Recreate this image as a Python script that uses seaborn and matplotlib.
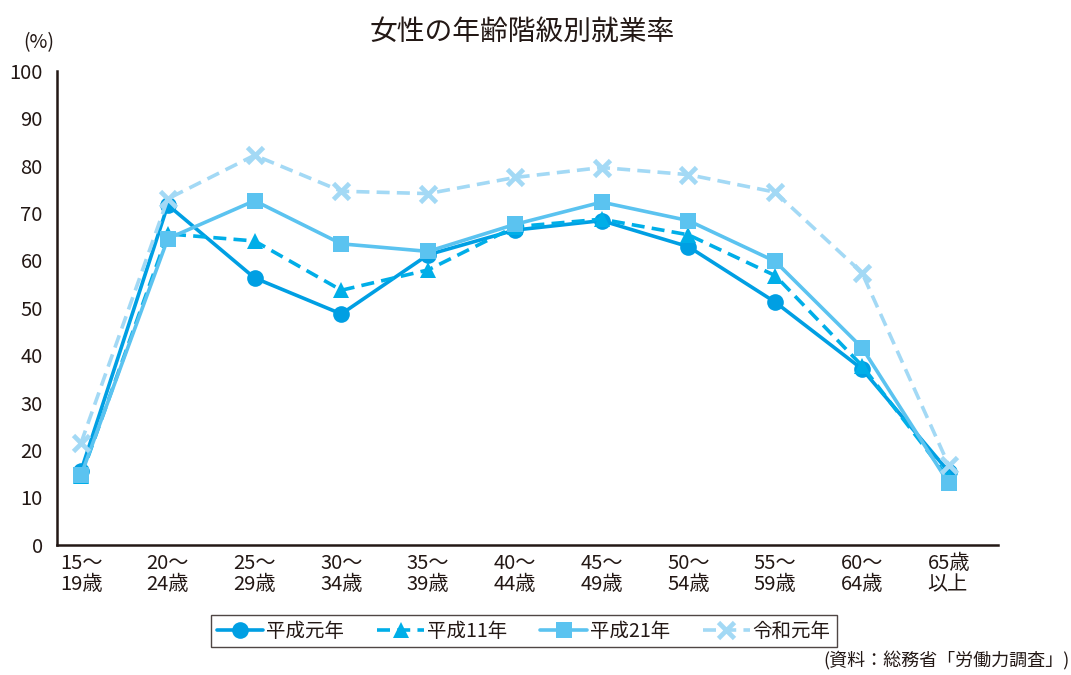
import matplotlib
matplotlib.use("Agg")
import matplotlib.pyplot as plt
import seaborn as sns
import pandas as pd

# age groups (x axis)
ages = ["15～\n19歳", "20～\n24歳", "25～\n29歳", "30～\n34歳", "35～\n39歳",
        "40～\n44歳", "45～\n49歳", "50～\n54歳", "55～\n59歳", "60～\n64歳", "65歳\n以上"]

# employment rate (%) per survey year
h01 = [15.6, 71.7, 56.3, 48.7, 61.2, 66.4, 68.4, 62.9, 51.2, 37.1, 15.4]
h11 = [14.4, 65.6, 64.1, 53.7, 58.0, 67.1, 68.7, 65.4, 56.8, 37.8, 14.0]
h21 = [14.7, 64.6, 72.6, 63.5, 61.9, 67.6, 72.3, 68.4, 59.8, 41.6, 13.0]
r01 = [21.5, 73.0, 82.2, 74.6, 74.1, 77.5, 79.6, 78.1, 74.4, 57.4, 16.8]

series = ["平成元年", "平成11年", "平成21年", "令和元年"]
colors = ["#009fe3", "#00aee8", "#5bc3f0", "#a3d9f5"]
markers = ["o", "^", "s", "x"]
dashed = [False, True, False, True]

sns.set_style("white")
plt.rcParams["font.family"] = ["Noto Sans CJK JP", "DejaVu Sans"]
txt = "#231815"

fig = plt.figure(figsize=(10.71, 6.75), dpi=100)
ax = fig.add_axes([0.053, 0.193, 0.879, 0.702])

xs = list(range(len(ages)))
for name, vals, c, m, d in zip(series, [h01, h11, h21, r01], colors, markers, dashed):
    df = pd.DataFrame({"x": xs, "y": vals})
    if m == "x":
        mk = dict(markersize=11, markeredgewidth=3.4, markeredgecolor=c)
    else:
        mk = dict(markersize=12, markeredgewidth=0, markerfacecolor=c)
    sns.lineplot(data=df, x="x", y="y", ax=ax, color=c, linewidth=2.6,
                 linestyle=(0, (3.6, 2)) if d else "-", marker=m, label=name, **mk)

ax.set_xlim(-0.28, 10.57)
ax.set_ylim(0, 100)
ax.set_yticks(range(0, 101, 10))
ax.set_xticks(xs)
ax.set_xticklabels(ages, multialignment="left", linespacing=1.0)
ax.set_xlabel("")
ax.set_ylabel("")
ax.tick_params(axis="y", direction="in", length=6, width=1.5, color=txt,
               labelsize=14.5, labelcolor=txt, pad=10)
ax.tick_params(axis="x", length=0, labelsize=14.5, labelcolor=txt, pad=6)
for side in ["top", "right"]:
    ax.spines[side].set_visible(False)
for side in ["left", "bottom"]:
    ax.spines[side].set_color(txt)
    ax.spines[side].set_linewidth(1.8)

fig.text(0.488, 0.953, "女性の年齢階級別就業率", ha="center", va="center", fontsize=20, color=txt)
fig.text(0.036, 0.937, "(%)", ha="center", va="center", fontsize=14, color=txt)
fig.text(0.999, 0.006, "(資料：総務省「労働力調査」)", ha="right", va="bottom", fontsize=13, color=txt)

leg = ax.legend(loc="center", bbox_to_anchor=(0.489, 0.065), bbox_transform=fig.transFigure,
                ncol=4, frameon=True, fancybox=False, fontsize=14, handlelength=2.4,
                columnspacing=1.7, handletextpad=0.15, borderpad=0.3, borderaxespad=0)
leg.get_frame().set_edgecolor(txt)
leg.get_frame().set_linewidth(1.0)
for t in leg.get_texts():
    t.set_color(txt)

fig.savefig("out.png", dpi=100)
